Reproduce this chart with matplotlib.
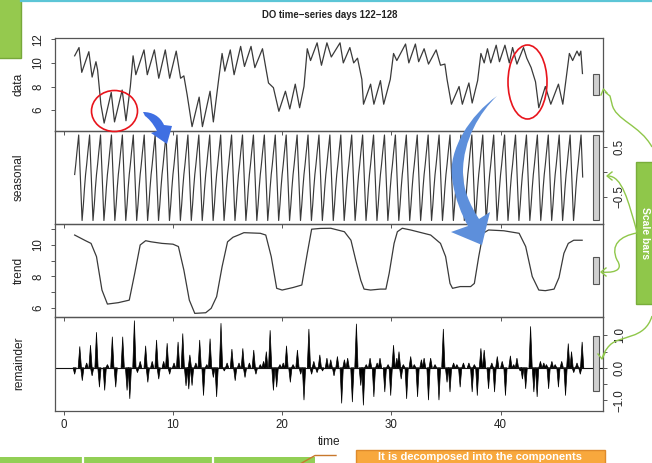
import numpy as np
import matplotlib
matplotlib.use('Agg')
import matplotlib.pyplot as plt
from matplotlib.patches import Rectangle, Ellipse, PathPatch
from matplotlib.path import Path

plt.rcParams['font.family'] = ['Liberation Sans', 'DejaVu Sans']

# ---- values ----
# data panel: turning points of the observed series
data_t = [1.0, 1.4, 1.65, 2.3, 2.6, 2.95, 3.1, 3.4, 3.7, 4.35, 4.65, 5.35, 5.7, 6.1,
          6.35, 6.6, 7.35, 7.65, 8.3, 8.7, 9.3, 9.7, 10.3, 10.7, 11.0, 11.3, 11.75,
          12.4, 12.7, 13.4, 13.7, 14.2, 14.5, 14.75, 15.25, 15.6, 16.2, 16.55, 17.15,
          17.5, 18.2, 18.5, 18.75, 19.2, 19.7, 20.3, 20.7, 21.2, 21.6, 22.0, 22.3,
          22.6, 23.2, 23.6, 24.1, 24.5, 25.3, 25.6, 26.2, 26.55, 26.9, 27.3, 27.45,
          28.1, 28.4, 29.0, 29.3, 29.9, 30.2, 30.5, 31.3, 31.6, 32.2, 32.5, 33.0,
          33.4, 34.1, 34.5, 34.9, 35.1, 35.5, 36.2, 36.5, 37.1, 37.4, 37.9, 38.2,
          38.5, 38.8, 39.1, 39.6, 39.9, 40.4, 40.8, 41.1, 41.5, 42.1, 42.4, 42.8,
          43.2, 43.5, 44.1, 44.6, 45.3, 45.7, 46.3, 46.6, 47.0, 47.2, 47.35, 47.5]
data_v = [10.6, 11.3, 9.2, 10.95, 8.8, 10.1, 9.4, 6.5, 4.9, 7.5, 5.0, 7.7, 5.1, 8.0,
          10.6, 9.0, 11.1, 9.0, 11.1, 8.7, 11.1, 8.7, 11.0, 8.7, 8.9, 7.3, 4.6,
          7.1, 4.6, 7.6, 5.0, 8.7, 10.8, 9.3, 11.1, 9.0, 11.4, 9.7, 11.4,
          9.6, 11.2, 9.6, 8.3, 7.9, 5.9, 7.6, 6.1, 8.2, 6.2, 8.0, 11.2,
          10.2, 11.7, 9.8, 11.7, 10.5, 11.7, 10.0, 11.3, 10.0, 10.4, 8.6, 6.5,
          8.2, 6.5, 8.5, 6.5, 8.6, 10.8, 10.2, 11.6, 10.0, 11.6, 10.1, 11.2,
          9.9, 11.1, 9.8, 9.9, 8.6, 6.5, 8.0, 6.5, 8.3, 6.6, 8.5, 10.8,
          10.0, 11.2, 10.0, 11.5, 10.1, 11.5, 10.0, 11.3, 9.9, 11.3, 10.4, 9.6,
          8.4, 6.2, 8.0, 6.5, 8.2, 6.5, 10.8, 10.2, 11.0, 10.6, 11.0, 9.1]

# seasonal panel: one daily cycle (phase within a time unit -> value)
season_phase = [0.0, 0.1, 0.2, 0.37, 0.52, 0.68, 0.8, 0.9]
season_cycle = [-0.05, 0.15, 0.38, 0.74, -0.1, -0.97, -0.65, -0.32]
n_cycles = 47
t_last = 47.55

# trend panel
trend_t = [1.0, 2.0, 2.5, 3.0, 3.5, 4.0, 5.0, 6.0, 6.5, 7.0, 7.5, 8.0, 9.0, 10.0,
           10.5, 11.0, 11.5, 12.0, 13.0, 13.5, 14.0, 14.5, 15.0, 15.5, 16.0, 16.5,
           18.0, 18.5, 19.0, 19.5, 20.0, 21.0, 21.8, 22.3, 22.7, 23.5, 24.45, 25.7,
           26.3, 26.74, 27.2, 27.5, 28.1, 29.0, 29.5, 29.8, 30.25, 30.55, 31.0,
           31.77, 33.6, 34.5, 34.97, 35.37, 35.6, 36.3, 37.26, 37.6, 38.0, 38.4,
           38.9, 40.3, 41.7, 42.3, 42.9, 43.5, 44.1, 44.9, 45.35, 45.8, 46.2, 46.7,
           47.47]
trend_v = [10.63, 10.27, 10.1, 9.26, 7.14, 6.25, 6.34, 6.5, 8.2, 10.0, 10.27, 10.2,
           10.1, 10.05, 9.9, 8.41, 6.5, 5.66, 5.7, 5.98, 6.72, 8.62, 10.2, 10.49,
           10.63, 10.78, 10.74, 10.63, 9.26, 7.25, 7.14, 7.3, 7.46, 9.47, 11.0,
           11.05, 11.06, 10.84, 10.3, 9.03, 7.76, 7.2, 7.14, 7.2, 7.2, 8.2, 10.1,
           10.84, 11.06, 10.95, 10.63, 10.1, 9.26, 7.56, 7.25, 7.36, 7.36, 7.56,
           9.26, 10.74, 10.95, 10.9, 10.74, 9.9, 8.0, 7.14, 7.1, 7.2, 7.93, 9.47,
           10.1, 10.3, 10.3]

# remainder panel: spikes (time, value)
rem_t = [1.0, 1.47, 1.7, 2.1, 2.45, 2.6, 3.0, 3.27, 3.75, 4.0, 4.45, 4.76, 5.4, 5.8,
         6.05, 6.47, 6.75, 7.0, 7.5, 7.7, 8.1, 8.5, 8.7, 9.15, 9.47, 9.7, 10.1,
         10.47, 10.9, 11.2, 11.45, 11.55, 11.75, 12.1, 12.45, 12.8, 13.1, 13.4,
         13.7, 14.0, 14.4, 14.7, 14.96, 15.4, 15.7, 16.05, 16.4, 16.6, 17.0, 17.4,
         17.6, 18.0, 18.3, 18.55, 18.9, 19.2, 19.5, 19.8, 20.1, 20.4, 20.75, 21.0,
         21.4, 21.7, 22.0, 22.45, 22.7, 22.9, 23.2, 23.45, 23.7, 24.1, 24.45, 24.75,
         25.06, 25.45, 25.7, 26.0, 26.43, 26.8, 27.2, 27.44, 27.7, 28.05, 28.4,
         28.7, 28.96, 29.4, 29.7, 29.94, 30.2, 30.5, 30.7, 30.9, 31.1, 31.4, 31.77,
         32.1, 32.4, 32.75, 33.0, 33.4, 33.6, 34.0, 34.36, 34.76, 35.1, 35.37,
         35.7, 36.0, 36.3, 36.6, 37.1, 37.4, 37.6, 37.87, 38.2, 38.5, 38.9, 39.2,
         39.45, 39.7, 40.15, 40.45, 40.9, 41.2, 41.5, 41.8, 42.0, 42.3, 42.75,
         43.05, 43.35, 43.65, 43.96, 44.2, 44.4, 44.7, 45.0, 45.3, 45.6, 45.95,
         46.2, 46.5, 46.7, 47.0, 47.3, 47.47]
rem_v = [-0.2, 0.66, -0.4, 0.15, 0.7, -0.25, 1.1, -0.6, -0.7, 0.1, 0.96, -0.6, 0.96,
         -0.7, -0.96, 1.46, -0.15, 0.2, 0.68, -0.45, 0.2, 0.86, -0.35, 0.2, 0.76,
         -0.2, 0.15, 0.8, 1.06, -0.56, -0.66, 0.4, -0.55, 0.15, 0.86, -0.86, 0.1,
         0.9, -0.3, -0.9, 1.38, -0.1, 0.15, 0.58, -0.4, 0.15, 0.6, -0.3, 0.15,
         0.55, -0.2, 0.1, 0.2, 0.5, 1.16, -0.7, -0.6, 0.1, 0.15, 0.68, -0.45, 0.1,
         0.55, -0.2, -1.0, 1.2, -0.2, 0.2, -0.15, 0.4, -0.1, 0.3, 0.25, -0.25,
         0.35, -1.1, 0.25, 0.3, -1.06, 1.36, -0.55, -1.16, 0.1, 0.3, -0.9,
         0.15, 0.3, -0.75, 0.1, -0.86, 0.7, 0.3, 0.5, -0.35, 0.1, -0.96, 0.35,
         0.1, -0.9, 0.25, 0.3, -1.0, 0.3, 0.1, -1.0, 1.2, -0.45, -0.75,
         0.15, 0.1, -0.6, 0.15, 0.15, -0.75, 0.1, -0.86, 0.6, 0.55, -0.65, 0.15,
         -0.75, 0.35, 0.2, -0.86, 0.37, 0.1, 0.3, -0.1, -0.35, -0.65, 1.28,
         -0.75, -0.9, 0.2, 0.15, 0.1, -0.65, 0.2, 0.1, -0.6, 0.2, -0.86,
         0.75, 0.5, -0.15, 0.15, -0.2, 0.8]

x_ticks = [0, 10, 20, 30, 40]

# seasonal series built from the repeated daily cycle
season_t = np.concatenate([k + np.array(season_phase) for k in range(1, n_cycles + 2)])
season_v = np.tile(season_cycle, n_cycles + 1)
keep = season_t <= t_last
season_t, season_v = season_t[keep], season_v[keep]

W, H = 652, 463
fig = plt.figure(figsize=(W / 100, H / 100), dpi=100)

# panel edges in pixels (top to bottom)
edges = [38, 131, 224, 317, 410.5]
left_px, right_px = 55, 603
line_col = '#3a3a3a'
frame_col = '#555555'
fs = 8.3


def panel(i):
    top, bot = edges[i], edges[i + 1]
    ax = fig.add_axes([left_px / W, 1 - bot / H, (right_px - left_px) / W, (bot - top) / H])
    ax.patch.set_alpha(0)
    for s in ax.spines.values():
        s.set_color(frame_col)
        s.set_linewidth(0.9)
    ax.set_xlim(-0.8, 49.38)
    ax.set_xticks(x_ticks)
    ax.tick_params(axis='both', direction='out', length=3.2, width=0.7,
                   color=frame_col, labelsize=fs, labelcolor='#222222')
    ax.tick_params(axis='x', labelbottom=(i == 3), pad=3)
    ax.tick_params(axis='y', pad=9)
    return ax


ax_data = panel(0)
ax_seas = panel(1)
ax_trend = panel(2)
ax_rem = panel(3)

ax_data.plot(data_t, data_v, color=line_col, lw=0.9)
ax_data.set_ylim(4.23, 12.11)
ax_data.set_yticks([6, 8, 10, 12])

ax_seas.plot(season_t, season_v, color=line_col, lw=0.85)
ax_seas.set_ylim(-1.04, 0.82)
ax_seas.yaxis.tick_right()
ax_seas.set_yticks([-0.5, 0, 0.5])
ax_seas.set_yticklabels(['\u22120.5', '', '0.5'])

ax_trend.plot(trend_t, trend_v, color=line_col, lw=0.9)
ax_trend.set_ylim(5.43, 11.33)
ax_trend.set_yticks([6, 7, 8, 9, 10, 11])
ax_trend.set_yticklabels(['6', '', '8', '', '10', ''])

ax_rem.axhline(0, color='#111111', lw=0.8)
hw = 0.15
for t, v in zip(rem_t, rem_v):
    ax_rem.fill([t - hw, t, t + hw], [0, v, 0], color='black', lw=0.5)
ax_rem.set_ylim(-1.32, 1.57)
ax_rem.yaxis.tick_right()
ax_rem.set_yticks([-1, -0.5, 0, 0.5, 1])
ax_rem.set_yticklabels(['\u22121.0', '', '0.0', '', '1.0'])

for ax in [ax_data, ax_seas, ax_trend, ax_rem]:
    for lab in ax.get_yticklabels():
        lab.set_rotation(90)
        lab.set_va('center')
        lab.set_ha('center')

# grey range bars, all the same length in data units
half = (max(season_cycle) - min(season_cycle)) / 2
for ax in [ax_data, ax_seas, ax_trend, ax_rem]:
    lo, hi = ax.get_ylim()
    yc = (lo + hi) / 2
    ax.add_patch(Rectangle((48.5, yc - half), 0.5, 2 * half, fc='#d0d0d0',
                           ec='#555555', lw=0.8, zorder=3))

# panel names
names = ['data', 'seasonal', 'trend', 'remainder']
for i, name in enumerate(names):
    yc = (edges[i] + edges[i + 1]) / 2
    fig.text(19 / W, 1 - yc / H, name, rotation=90, ha='center', va='center',
             fontsize=8.6, color='#222222')

fig.text(329 / W, 1 - 442 / H, 'time', ha='center', va='center', fontsize=8.6,
         color='#222222')
fig.text(330 / W, 1 - 15 / H, 'DO time\u2212series days 122\u2212128', ha='center',
         va='center', fontsize=6.9, fontweight='bold', color='#222222')

# ---- slide annotations drawn on top, in pixel coordinates ----
ov = fig.add_axes([0, 0, 1, 1], zorder=10)
ov.set_xlim(0, W)
ov.set_ylim(H, 0)
ov.axis('off')
ov.patch.set_alpha(0)

green = '#8fc74a'
ov.add_patch(Rectangle((-2, -2), 23, 60, fc='#95c94e', ec='#77a83a', lw=1.0))
ov.plot([21, W], [1.2, 1.2], color='#5cc5d6', lw=1.6)

ov.add_patch(Ellipse((114.5, 111), 46, 41, fill=False, ec='#e8141c', lw=1.2))
ov.add_patch(Ellipse((527.5, 82), 39, 74, fill=False, ec='#e8141c', lw=1.2))

# small dark blue arrow
P = Path.MOVETO; L = Path.LINETO; C4 = Path.CURVE4; CL = Path.CLOSEPOLY
arrow1 = Path([(143, 112), (152, 112), (160, 116), (164, 125),
               (172, 126), (167, 144), (151, 133), (157, 131),
               (153, 123), (148, 118), (145, 116), (143, 112)],
              [P, C4, C4, C4, L, L, L, L, C4, C4, C4, CL])
ov.add_patch(PathPatch(arrow1, fc='#3f6fe2', ec='none'))

# large light blue arrow
arrow2 = Path([(497, 96), (470, 115), (448, 150), (452, 178),
               (455, 200), (462, 215), (468, 226),
               (451, 232), (482, 245), (490, 212), (479, 219),
               (470, 205), (463, 190), (463, 172),
               (463, 140), (480, 112), (497, 96), (497, 96)],
              [P, C4, C4, C4, C4, C4, C4, L, L, L, L, C4, C4, C4, C4, C4, C4, CL])
ov.add_patch(PathPatch(arrow2, fc='#5d8fdb', ec='none'))

# right green box with white text
ov.add_patch(Rectangle((636, 162), 30, 142, fc=green, ec='#79ad3b', lw=1.0))
ov.text(644.5, 233, 'Scale bars', rotation=-90, ha='center', va='center',
        color='white', fontsize=7.5, fontweight='bold')

# green connector arrows to the range bars
def curve(pts, codes):
    ov.add_patch(PathPatch(Path(pts, codes), fc='none', ec=green, lw=1.0))

curve([(652, 147), (640, 125), (615, 120), (612, 104), (610, 96), (605, 92)],
      [P, C4, C4, C4, L, L])
ov.plot([601, 603.5, 607], [95, 89, 93], color=green, lw=1.0)
curve([(637, 232), (628, 200), (622, 176), (608, 176)], [P, C4, C4, C4])
ov.plot([612, 607, 612], [172, 176, 180], color=green, lw=1.0)
curve([(637, 233), (620, 236), (610, 245), (617, 260), (625, 272), (610, 273), (601, 272)],
      [P, C4, C4, C4, C4, C4, C4])
ov.plot([606, 601, 606], [268, 272, 276], color=green, lw=1.0)
curve([(652, 316), (645, 340), (620, 335), (610, 345), (605, 350), (603, 355), (602, 359)],
      [P, C4, C4, C4, C4, C4, C4])
ov.plot([598, 602, 605], [354, 359, 353], color=green, lw=1.0)

# bottom green strip, orange connector and orange box
ov.add_patch(Rectangle((-2, 457), 317, 10, fc='#92cf55', ec='none'))
for xs in [83, 213]:
    ov.plot([xs, xs], [457, 464], color='white', lw=1.6)
ov.plot([300, 315, 336], [464, 455.5, 455.5], color='#c8782c', lw=1.0)
ov.add_patch(Rectangle((356, 449.5), 249, 20, fc='#f8a83d', ec='#de8a2c', lw=1.0))
ov.text(480, 456.5, 'It is decomposed into the components', ha='center', va='center',
        color='white', fontsize=8, fontweight='bold')

fig.savefig('out.png', dpi=100)
